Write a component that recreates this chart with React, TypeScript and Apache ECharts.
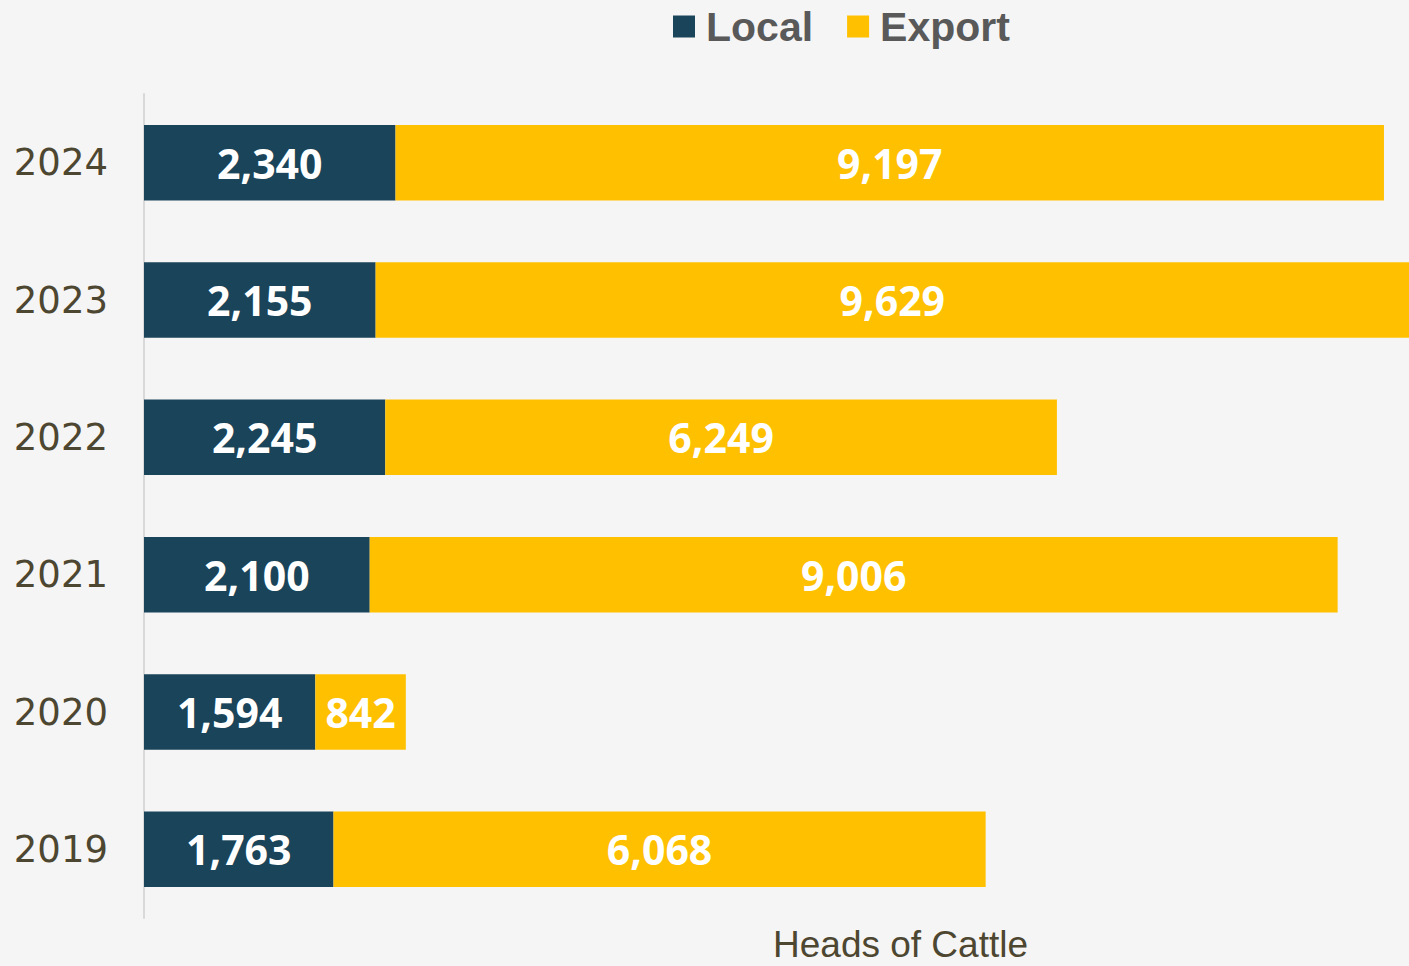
import React, { useEffect, useRef } from "react";
import * as echarts from "echarts";

const years = ["2019", "2020", "2021", "2022", "2023", "2024"];
const localValues = [1763, 1594, 2100, 2245, 2155, 2340];
const exportValues = [6068, 842, 9006, 6249, 9629, 9197];
const seriesNames = ["Local", "Export"];
const axisTitle = "Heads of Cattle";

export default function App() {
  const ref = useRef<HTMLDivElement>(null);
  useEffect(() => {
    if (!ref.current) return;
    const chart = echarts.init(ref.current, null, { renderer: "svg" });
    const labelStyle = {
      show: true,
      position: "inside",
      color: "#ffffff",
      fontFamily: "Open Sans",
      fontWeight: "bold",
      fontSize: 41,
      formatter: (p: any) => Number(p.value).toLocaleString("en-US"),
    };
    chart.setOption({
      animation: false,
      backgroundColor: "#f5f5f5",
      legend: {
        data: seriesNames,
        left: 668,
        top: 1,
        icon: "rect",
        itemWidth: 22,
        itemHeight: 22,
        itemGap: 34,
        textStyle: {
          fontFamily: "Liberation Sans",
          fontWeight: "bold",
          fontSize: 41,
          color: "#595959",
          padding: [0, 0, 0, 6],
        },
      },
      grid: { left: 144, right: 0, top: 94, bottom: 48, containLabel: false },
      xAxis: {
        type: "value",
        min: 0,
        max: 11770,
        show: false,
        splitLine: { show: false },
      },
      yAxis: {
        type: "category",
        data: years,
        axisLine: { show: true, lineStyle: { color: "#d9d9d9", width: 2 } },
        axisTick: { show: false },
        axisLabel: {
          margin: 36,
          fontFamily: "DejaVu Sans",
          fontSize: 37,
          color: "#4d4630",
        },
      },
      graphic: [
        {
          type: "text",
          left: 773,
          top: 926,
          style: {
            text: axisTitle,
            fontFamily: "Liberation Sans",
            fontSize: 37,
            fill: "#4d4630",
          },
        },
      ],
      series: [
        {
          name: seriesNames[0],
          type: "bar",
          stack: "total",
          data: localValues,
          barWidth: "55%",
          itemStyle: { color: "#1a4459" },
          label: labelStyle,
        },
        {
          name: seriesNames[1],
          type: "bar",
          stack: "total",
          data: exportValues,
          barWidth: "55%",
          itemStyle: { color: "#ffc000" },
          label: labelStyle,
        },
      ],
    });
    return () => chart.dispose();
  }, []);
  return (
    <div
      ref={ref}
      style={{ position: "fixed", left: 0, top: 0, width: "1409px", height: "966px" }}
    />
  );
}
